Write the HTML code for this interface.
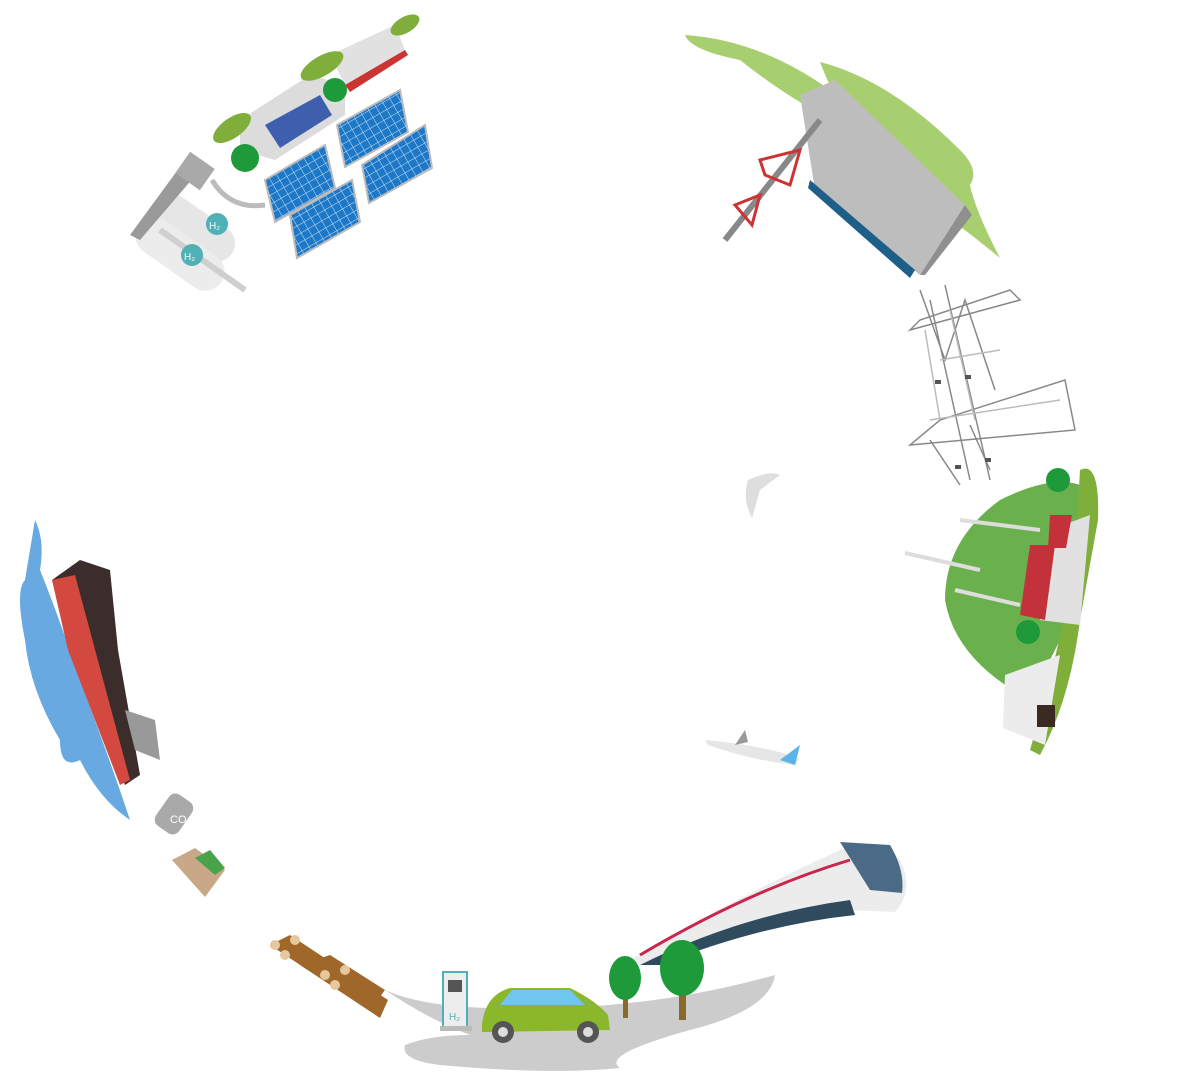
<!DOCTYPE html>
<html><head><meta charset="utf-8"><style>
html,body{margin:0;padding:0;background:#fff;}
svg{display:block;}
text{font-family:"Liberation Sans",sans-serif;}
</style></head><body>
<svg width="1188" height="1074" viewBox="0 0 1188 1074" xmlns="http://www.w3.org/2000/svg">
<defs>
<pattern id="grid" width="8" height="8" patternUnits="userSpaceOnUse" patternTransform="rotate(-30)">
<rect width="8" height="8" fill="#1e78c8"/><path d="M0 0 H8 M0 0 V8" stroke="#cfe4f5" stroke-width="1"/>
</pattern>
</defs>
<!-- hydrogen tanks -->
<g>
<rect x="150" y="210" width="90" height="36" rx="18" fill="#e6e6e6" transform="rotate(35 195 228)"/>
<rect x="130" y="235" width="100" height="38" rx="19" fill="#ececec" transform="rotate(35 180 254)"/>
<path d="M160 230 L245 290" stroke="#cfcfcf" stroke-width="6"/>
<path d="M130 235 L185 160 L200 170 L140 240 Z" fill="#9a9a9a"/>
<circle cx="217" cy="224" r="11" fill="#4fb0b5"/><text x="209" y="229" font-size="10" fill="#fff">H₂</text>
<circle cx="192" cy="255" r="11" fill="#4fb0b5"/><text x="184" y="260" font-size="10" fill="#fff">H₂</text>
<rect x="180" y="158" width="30" height="26" fill="#a9a9a9" transform="rotate(35 195 171)"/>
<path d="M212 180 Q230 210 265 205" stroke="#bbb" stroke-width="5" fill="none"/>
</g>
<!-- houses -->
<path d="M240 120 L310 75 L345 85 L345 115 L275 160 L240 150 Z" fill="#dcdcdc"/>
<path d="M265 125 L320 95 L332 115 L280 148 Z" fill="#3d5fae"/>
<path d="M330 55 L395 25 L405 50 L345 85 Z" fill="#e1e1e1"/>
<path d="M345 85 L405 50 L408 55 L350 92 Z" fill="#c33"/>
<ellipse cx="232" cy="128" rx="22" ry="10" fill="#7fae3a" transform="rotate(-35 232 128)"/>
<ellipse cx="322" cy="66" rx="24" ry="10" fill="#7fae3a" transform="rotate(-30 322 66)"/>
<ellipse cx="405" cy="25" rx="16" ry="8" fill="#7fae3a" transform="rotate(-30 405 25)"/>
<circle cx="245" cy="158" r="14" fill="#1f9a3a"/>
<circle cx="335" cy="90" r="12" fill="#1f9a3a"/>
<!-- solar panels -->
<g fill="url(#grid)" stroke="#bbb" stroke-width="2">
<path d="M265 180 L325 145 L335 188 L275 222 Z"/>
<path d="M337 125 L400 90 L408 132 L345 167 Z"/>
<path d="M290 215 L352 180 L360 222 L297 258 Z"/>
<path d="M362 165 L425 125 L432 168 L369 203 Z"/>
</g>
<!-- top-right green blob -->
<path d="M685 35 Q760 40 830 90 L850 130 Q790 100 740 60 Q690 50 685 35 Z" fill="#a8cf6f"/>
<path d="M820 62 Q890 80 960 150 Q980 170 970 185 Q975 210 1000 258 Q960 225 910 190 Q850 140 820 62 Z" fill="#a8cf6f"/>
<path d="M800 95 L835 80 L965 205 L920 275 L815 190 Z" fill="#bdbdbd"/>
<path d="M920 275 L965 205 L972 215 L925 275 Z" fill="#8f8f8f"/>
<path d="M810 180 L915 270 L910 278 L808 188 Z" fill="#1e5f8a"/>
<path d="M725 240 L820 120" stroke="#888" stroke-width="6"/>
<path d="M760 160 L800 150 L790 185 L765 175 Z M735 205 L760 195 L752 225 Z" stroke="#c33" stroke-width="3" fill="none"/>
<!-- power towers -->
<g stroke="#888" stroke-width="1.5" fill="none">
<path d="M910 330 L1020 300 L1010 290 L920 320 Z M920 290 L945 360 L965 300 L995 390 M930 300 L970 480 M945 285 L990 480"/>
<path d="M910 445 L1075 430 L1065 380 L940 420 Z M930 440 L960 485 M970 425 L990 470"/>
<path d="M925 330 L940 420 M950 310 L975 420 M940 360 L1000 350 M930 420 L1060 400" stroke="#bbb"/>
</g>
<g fill="#555"><rect x="935" y="380" width="6" height="4"/><rect x="965" y="375" width="6" height="4"/><rect x="955" y="465" width="6" height="4"/><rect x="985" y="458" width="6" height="4"/></g>
<!-- seagull -->
<path d="M748 480 Q770 470 780 475 L760 490 L752 518 Q742 500 748 480 Z" fill="#dedede"/>
<!-- right green hill -->
<path d="M1090 490 Q1060 470 1000 500 Q945 540 945 600 Q955 660 1030 700 L1060 640 Z" fill="#6ab04c"/>
<path d="M1080 470 Q1100 460 1098 520 L1080 620 Q1070 700 1040 755 L1030 750 Q1060 650 1075 560 Z" fill="#7fae3a"/>
<path d="M1050 530 L1090 515 L1080 625 L1040 620 Z" fill="#e1e1e1"/>
<path d="M1030 545 L1055 545 L1045 620 L1020 615 Z" fill="#c3323a"/>
<path d="M1050 515 L1072 515 L1066 548 L1048 548 Z" fill="#c3323a"/>
<path d="M1005 675 L1060 655 L1045 745 L1003 728 Z" fill="#ececec"/>
<rect x="1037" y="705" width="18" height="22" fill="#3b2a22"/>
<circle cx="1058" cy="480" r="12" fill="#1f9a3a"/>
<circle cx="1028" cy="632" r="12" fill="#1f9a3a"/>
<path d="M960 520 L1040 530 M905 553 L980 570 M955 590 L1020 605" stroke="#ddd" stroke-width="4"/>
<!-- plane -->
<path d="M705 740 Q760 745 800 758 L795 765 Q750 760 708 745 Z" fill="#e6e6e6"/>
<path d="M780 760 L800 745 L795 765 Z" fill="#5bb4e8"/>
<path d="M735 745 L745 730 L748 742 Z" fill="#999"/>
<!-- train -->
<path d="M630 960 Q730 900 840 850 Q880 838 900 860 Q915 890 895 912 L850 910 Q740 920 640 965 Z" fill="#ececec"/>
<path d="M640 965 Q740 915 850 900 L855 915 Q760 925 660 965 Z" fill="#2f4b5d"/>
<path d="M840 842 L890 845 Q905 870 902 893 L870 890 Z" fill="#4a6a85"/>
<path d="M640 955 Q750 890 850 860" stroke="#c8264a" stroke-width="3" fill="none"/>
<!-- road -->
<path d="M385 990 Q430 1010 520 1008 Q650 1010 775 975 Q770 1010 690 1030 Q600 1055 620 1068 Q550 1075 440 1065 Q400 1060 405 1045 Q430 1035 470 1035 Q430 1020 385 990 Z" fill="#cccccc"/>
<!-- logs -->
<g fill="#a0672a"><path d="M270 945 L290 935 L388 1000 L380 1018 Z"/><path d="M300 965 L330 955 L385 990 L370 1010 Z"/></g>
<g fill="#e7c79d"><circle cx="275" cy="945" r="5"/><circle cx="285" cy="955" r="5"/><circle cx="295" cy="940" r="5"/><circle cx="325" cy="975" r="5"/><circle cx="335" cy="985" r="5"/><circle cx="345" cy="970" r="5"/></g>
<!-- H2 station -->
<rect x="443" y="972" width="24" height="55" fill="#ededed" stroke="#4fb0b5" stroke-width="2"/>
<rect x="448" y="980" width="14" height="12" fill="#555"/>
<text x="449" y="1020" font-size="10" fill="#4fb0b5">H₂</text>
<rect x="440" y="1026" width="32" height="5" fill="#bbb"/>
<!-- car -->
<path d="M482 1025 Q485 995 510 988 L570 988 Q595 1000 608 1015 L610 1030 L482 1032 Z" fill="#8ab82a"/>
<path d="M500 1005 L512 990 L570 990 L585 1005 Z" fill="#6fc6ef"/>
<circle cx="503" cy="1032" r="11" fill="#555"/><circle cx="503" cy="1032" r="5" fill="#ddd"/>
<circle cx="588" cy="1032" r="11" fill="#555"/><circle cx="588" cy="1032" r="5" fill="#ddd"/>
<!-- trees -->
<rect x="623" y="990" width="5" height="28" fill="#8a6a2a"/><ellipse cx="625" cy="978" rx="16" ry="22" fill="#1f9a3a"/>
<rect x="679" y="985" width="7" height="35" fill="#8a6a2a"/><ellipse cx="682" cy="968" rx="22" ry="28" fill="#1f9a3a"/>
<!-- left water + ship -->
<path d="M35 520 Q45 540 40 570 Q60 620 80 680 Q110 760 130 820 Q100 800 80 760 Q60 770 60 740 Q30 690 25 640 Q15 590 25 580 Q30 550 35 520 Z" fill="#67a9e0"/>
<path d="M52 580 L80 560 L110 570 L118 650 L140 775 L125 785 Q100 720 75 650 Z" fill="#3b2d2b"/>
<path d="M52 580 L75 575 L130 780 L120 785 Q95 720 68 650 Z" fill="#d4493f"/>
<path d="M125 710 L155 720 L160 760 L135 750 Z" fill="#999"/>
<!-- CO2 tank -->
<rect x="160" y="795" width="28" height="38" rx="8" fill="#a9a9a9" transform="rotate(35 174 814)"/>
<text x="170" y="823" font-size="11" fill="#fff">CO₂</text>
<!-- box -->
<path d="M172 860 L195 848 L225 870 L205 897 Z" fill="#c9a887"/>
<path d="M195 858 L210 850 L225 868 L215 875 Z" fill="#4aa34a"/>
</svg>
</body></html>
